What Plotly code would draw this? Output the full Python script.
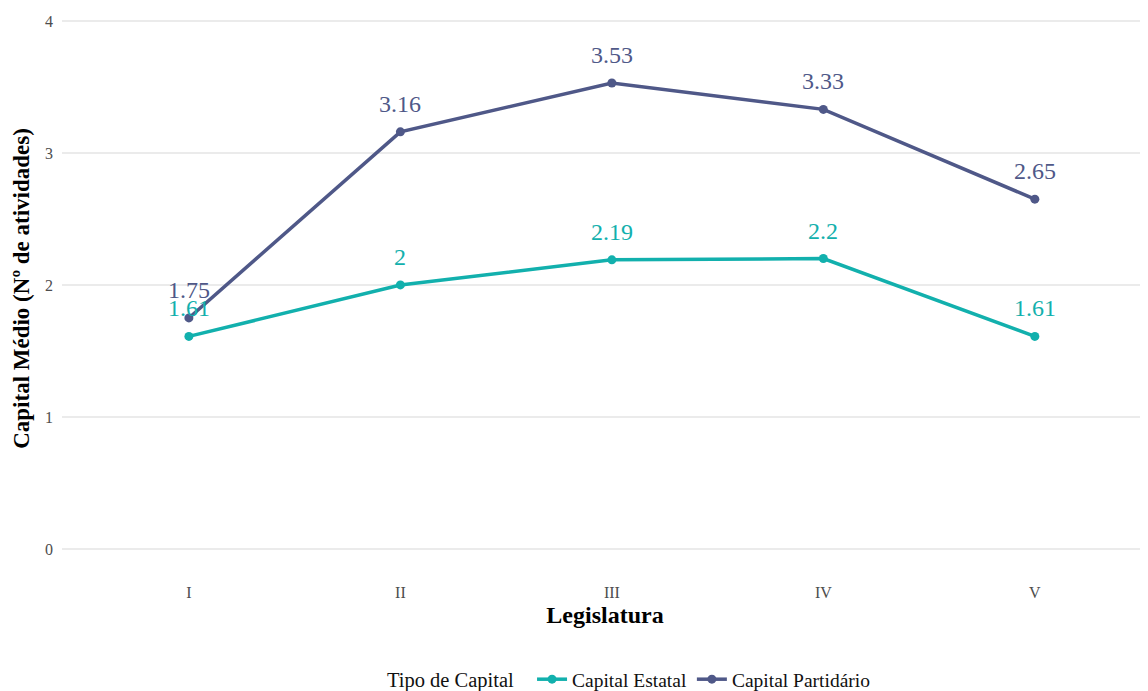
import plotly.graph_objects as go

legislaturas = ["I", "II", "III", "IV", "V"]
capital_estatal = [1.61, 2.00, 2.19, 2.20, 1.61]
capital_partidario = [1.75, 3.16, 3.53, 3.33, 2.65]
rotulos_estatal = ["1.61", "2", "2.19", "2.2", "1.61"]
rotulos_partidario = ["1.75", "3.16", "3.53", "3.33", "2.65"]

cor_estatal = "#12B0AD"
cor_partidario = "#4F5888"
fonte = "Liberation Serif"

fig = go.Figure()

fig.add_trace(go.Scatter(
    x=legislaturas, y=capital_estatal, mode="lines+markers", name="Capital Estatal",
    line=dict(color=cor_estatal, width=3.5), marker=dict(size=9, color=cor_estatal)))
fig.add_trace(go.Scatter(
    x=legislaturas, y=capital_partidario, mode="lines+markers", name="Capital Partidário",
    line=dict(color=cor_partidario, width=3.5), marker=dict(size=9, color=cor_partidario)))

# rótulos dos valores acima dos pontos
for serie, rotulos, cor in [(capital_estatal, rotulos_estatal, cor_estatal),
                            (capital_partidario, rotulos_partidario, cor_partidario)]:
    for leg, val, txt in zip(legislaturas, serie, rotulos):
        fig.add_annotation(x=leg, y=val, text=txt, showarrow=False, yshift=28,
                           font=dict(family=fonte, size=24, color=cor))

# a página tem margem de 8px, por isso a largura/altura compensam
fig.update_layout(
    width=1140, height=700,
    margin=dict(l=54, r=0, t=0, b=139),
    plot_bgcolor="white", paper_bgcolor="white",
    font=dict(family=fonte),
    showlegend=True,
    legend=dict(
        orientation="h", x=0.523, xanchor="center", y=-0.197, yanchor="middle",
        title=dict(text="Tipo de Capital\u00a0\u00a0", font=dict(size=20.5, color="#111")),
        font=dict(size=19.5, color="#111"),
    ),
)

fig.update_xaxes(
    range=[-0.6, 4.535], showgrid=False, zeroline=False, showline=False,
    tickfont=dict(size=16, color="#4d4d4d"), ticks="", ticklabelstandoff=12,
    automargin=False,
    title=dict(text="<b>Legislatura</b>", font=dict(size=24, color="black"), standoff=6),
)
fig.update_yaxes(
    range=[-0.152, 4.098], tickvals=[0, 1, 2, 3, 4], showgrid=True,
    gridcolor="#EBEBEB", gridwidth=1.5, zeroline=False, showline=False,
    tickfont=dict(size=16, color="#4d4d4d"), ticks="", ticklabelstandoff=8,
    automargin=False,
    title=dict(text="<b>Capital Médio (Nº de atividades)</b>",
               font=dict(size=23, color="black"), standoff=8),
)

fig.write_html("out.html")
